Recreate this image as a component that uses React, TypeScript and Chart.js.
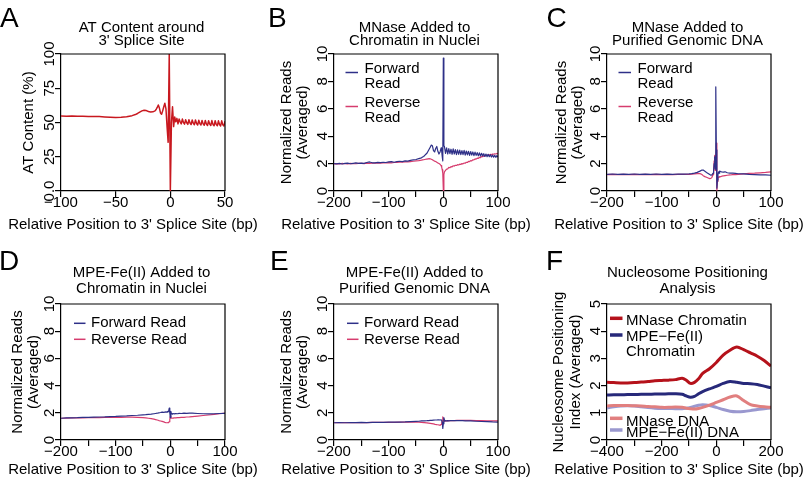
import React, { useEffect, useRef } from 'react';
import { Chart, registerables } from 'chart.js';
Chart.register(...registerables);

const FONT = "'Liberation Sans', Arial, Helvetica, sans-serif";
const X_TITLE = "Relative Position to 3' Splice Site (bp)";

// ---------- Panel A: AT content ----------
const A_POS = [-100,-95,-90,-85,-80,-75,-70,-65,-60,-55,-50,-45,-40,-35,
  -32,-30,-28,-26,-24,-22,-20,-18,-16,-14,
  -13,-12,-11,-10,-9,-8,-7,-6,-5,-4,-3,-2,-1,0,
  1,2,3,4,5,6,7,8,9,10,11,12,13,14,15,16,17,18,19,20,21,22,23,24,25,
  26,27,28,29,30,31,32,33,34,35,36,37,38,39,40,41,42,43,44,45,46,47,48,49,50];
const A_AT = [54.8,54.6,54.7,54.5,54.6,54.4,54.4,54.3,54.1,53.9,53.7,53.8,54.2,55.0,
  55.8,56.6,57.6,58.5,59.0,58.7,58.0,57.6,57.8,58.5,
  59.5,61.0,62.8,60.5,57.0,56.0,58.5,61.5,64.0,60.0,47.0,35.5,100,0,
  50.0,61.5,47.0,54.0,50.5,53.0,49.0,52.5,50.5,49.0,52.5,50.0,48.8,52.0,49.8,48.6,52.0,49.6,48.5,51.8,49.5,48.4,51.8,49.3,48.2,
  51.6,49.2,48.2,51.5,49.0,48.0,51.5,48.8,47.8,51.3,48.8,47.8,51.4,48.6,47.6,51.3,48.5,47.6,51.2,48.5,47.5,51.2,48.3,47.5,51.0];

// ---------- Panel B: MNase, chromatin ----------
const B_POS = [-200,-195,-190,-185,-180,-175,-170,-165,-160,-155,-150,-145,-140,-135,-130,-125,-120,-115,-110,-105,-100,-95,-90,-85,-80,-75,-70,-65,-60,-55,-50,-45,-40,
  -38,-36,-34,-32,-30,-28,-26,-24,-22,-20,-18,-16,-14,-12,-10,-8,-6,-4,-3,-2,-1,0,1,
  2,4,6,8,10,12,14,16,18,20,22,24,26,28,30,32,34,36,38,40,42,44,46,48,50,52,54,56,58,60,62,64,66,68,70,72,74,76,78,80,82,84,86,88,90,92,94,96,98,100];
const B_FWD = [2.00,1.98,2.02,1.97,2.01,2.03,1.99,2.02,2.05,2.01,2.04,2.02,2.08,2.12,2.06,2.05,2.09,2.07,2.10,2.08,2.12,2.15,2.10,2.14,2.17,2.15,2.20,2.18,2.24,2.27,2.30,2.36,2.42,
  2.48,2.52,2.6,2.68,2.75,2.9,3.05,3.2,3.35,3.3,2.95,2.85,3.1,3.25,2.9,2.7,2.85,3.15,2.9,2.5,2.2,9.7,3.3,
  3.25,2.75,3.15,2.7,3.1,2.72,3.05,2.68,3.08,2.7,3.02,2.66,3.0,2.68,2.98,2.65,2.95,2.66,2.96,2.62,2.92,2.64,2.9,2.6,2.88,2.62,2.85,2.58,2.84,2.6,2.8,2.57,2.78,2.55,2.75,2.55,2.72,2.52,2.7,2.5,2.68,2.5,2.65,2.48,2.62,2.47,2.6,2.46,2.58,2.48];
const B_REV = [1.98,2.0,1.97,2.01,1.99,1.98,2.02,2.0,1.99,2.02,2.01,2.0,2.03,2.02,2.04,2.03,2.05,2.04,2.06,2.05,2.07,2.06,2.08,2.08,2.1,2.1,2.12,2.13,2.15,2.17,2.2,2.22,2.25,
  2.27,2.28,2.3,2.32,2.33,2.35,2.36,2.35,2.32,2.28,2.22,2.18,2.15,2.1,2.05,2.0,1.95,1.85,1.75,1.55,1.3,0.05,1.2,
  1.4,1.5,1.6,1.62,1.72,1.7,1.78,1.76,1.84,1.82,1.88,1.86,1.92,1.9,1.96,1.94,2.0,1.98,2.04,2.03,2.1,2.08,2.16,2.15,2.22,2.2,2.28,2.27,2.34,2.33,2.4,2.38,2.46,2.44,2.52,2.5,2.56,2.55,2.6,2.59,2.64,2.62,2.67,2.65,2.7,2.68,2.72,2.7,2.74,2.73];

// ---------- Panels C, D, E ----------
const CDE_POS = [-200,-190,-180,-170,-160,-150,-140,-130,-120,-110,-100,-90,-80,-70,-60,-50,
  -45,-40,-35,-30,-27,-24,-21,-18,-15,-12,-10,-8,-6,-5,-4,-3,-2,-1,0,
  1,2,3,4,5,6,8,10,13,16,20,25,30,35,40,50,60,70,80,90,100];
const C_FWD = [1.22,1.24,1.21,1.23,1.22,1.24,1.22,1.23,1.21,1.24,1.22,1.23,1.22,1.24,1.23,1.25,
  1.27,1.3,1.36,1.45,1.52,1.53,1.45,1.35,1.28,1.2,1.15,1.18,1.3,1.5,2.0,2.5,1.6,7.6,3.0,
  0.2,0.8,1.2,1.4,1.3,1.45,1.42,1.4,1.38,1.4,1.33,1.3,1.3,1.28,1.26,1.25,1.22,1.2,1.18,1.17,1.15];
const C_REV = [1.2,1.22,1.19,1.21,1.2,1.22,1.2,1.21,1.19,1.22,1.2,1.21,1.2,1.22,1.21,1.22,
  1.23,1.25,1.27,1.27,1.22,1.12,1.05,1.0,0.95,0.9,0.92,1.0,1.2,1.5,2.2,2.6,1.5,2.5,3.5,
  0.05,0.7,0.95,1.0,1.05,1.02,1.05,1.08,1.1,1.12,1.15,1.17,1.2,1.2,1.22,1.25,1.28,1.3,1.33,1.36,1.4];
const D_FWD = [1.6,1.62,1.63,1.64,1.66,1.66,1.68,1.69,1.7,1.72,1.73,1.75,1.77,1.8,1.82,1.85,
  1.86,1.88,1.9,1.93,1.95,1.97,2.0,2.02,2.05,2.03,2.05,2.07,2.05,2.1,2.08,2.15,2.35,2.0,1.65,
  2.1,1.92,1.95,1.9,1.93,1.95,1.92,1.95,1.93,1.96,1.95,1.98,1.96,1.98,1.97,1.95,1.93,1.92,1.93,1.95,1.96];
const D_REV = [1.6,1.61,1.62,1.62,1.63,1.64,1.64,1.65,1.66,1.66,1.67,1.67,1.68,1.68,1.67,1.65,
  1.63,1.6,1.57,1.53,1.5,1.47,1.43,1.4,1.37,1.33,1.3,1.28,1.27,1.27,1.28,1.3,1.35,1.5,1.75,
  1.62,1.6,1.6,1.61,1.61,1.62,1.62,1.63,1.64,1.65,1.66,1.67,1.69,1.7,1.72,1.76,1.8,1.84,1.88,1.93,1.98];
const E_FWD = [1.27,1.28,1.27,1.28,1.28,1.29,1.28,1.29,1.3,1.3,1.31,1.31,1.32,1.33,1.35,1.37,
  1.38,1.4,1.41,1.42,1.43,1.44,1.45,1.46,1.47,1.47,1.48,1.48,1.47,1.48,1.47,1.45,1.3,0.85,1.2,
  1.65,1.45,1.4,1.42,1.4,1.41,1.42,1.41,1.42,1.42,1.43,1.43,1.42,1.42,1.41,1.4,1.38,1.36,1.35,1.33,1.32];
const E_REV = [1.27,1.27,1.28,1.27,1.28,1.28,1.28,1.29,1.29,1.29,1.3,1.3,1.31,1.31,1.32,1.32,
  1.31,1.3,1.28,1.26,1.24,1.22,1.2,1.18,1.15,1.13,1.12,1.1,1.1,1.12,1.15,1.25,1.4,1.7,1.55,
  1.35,1.38,1.4,1.42,1.4,1.42,1.41,1.42,1.43,1.42,1.43,1.44,1.44,1.45,1.45,1.44,1.43,1.42,1.41,1.4,1.4];

// ---------- Panel F: nucleosome positioning ----------
const F_POS = [-400,-375,-350,-325,-300,-275,-250,-225,-200,-175,-150,-125,-110,-95,-80,-65,-50,-25,0,25,50,75,100,125,150,175,200];
const F_MNASE_CHR = [2.12,2.11,2.1,2.1,2.11,2.13,2.15,2.18,2.19,2.2,2.22,2.27,2.2,2.08,2.12,2.25,2.45,2.62,2.85,3.12,3.3,3.42,3.32,3.2,3.08,2.92,2.72];
const F_MPE_CHR = [1.65,1.66,1.66,1.67,1.67,1.68,1.68,1.69,1.69,1.7,1.7,1.68,1.62,1.57,1.6,1.7,1.78,1.88,1.97,2.08,2.15,2.12,2.08,2.07,2.04,1.98,1.92];
const F_MNASE_DNA = [1.25,1.27,1.27,1.27,1.26,1.25,1.23,1.22,1.2,1.2,1.21,1.2,1.17,1.15,1.14,1.16,1.2,1.28,1.38,1.48,1.58,1.62,1.45,1.3,1.25,1.22,1.2];
const F_MPE_DNA = [1.18,1.22,1.25,1.26,1.25,1.22,1.19,1.17,1.16,1.16,1.15,1.15,1.17,1.2,1.24,1.28,1.3,1.27,1.2,1.12,1.06,1.04,1.05,1.08,1.12,1.15,1.18];

const RED_A = '#C8181F';
const FWD = '#2E3088';
const REV = '#D63C6E';
const F_COLORS = ['#B5121B', '#27297A', '#E17F7F', '#9A98CF'];

const fmtNum = (v: number) => (v < 0 ? '\u2212' + Math.abs(v) : String(v));

type Series = { xs: number[]; ys: number[]; color: string; width: number; tension?: number };
type Leg = { lines: string[]; color: string; width: number; seg: [number, number]; segY: number; tx: number; base: number[] };
type Spec = {
  cx: number; cy: number; cw: number; ch: number;
  L: number; T: number; R: number; B: number;
  letter: string; letterX: number; letterY: number;
  title: string[]; titleBase: number[]; xTitleBase: number;
  yTitle: string | string[]; yTitlePad: number;
  xMin: number; xMax: number; xStep: number; xLabelEvery: number;
  yMin: number; yMax: number; yStep: number; yFmt?: (v: number) => string; yTickPad: number;
  series: Series[]; legend: Leg[];
};

const ROW1 = { cy: 0, ch: 241, T: 54, B: 191, titleBase: [31.5, 45], xTitleBase: 229, letterY: 27 };
const ROW2 = { cy: 241, ch: 241, T: 304, B: 440, titleBase: [276.5, 292.5], xTitleBase: 474, letterY: 270 };
const COL1 = { cx: 0, cw: 275, L: 61, R: 225 };
const COL2 = { cx: 269, cw: 280, L: 334, R: 498 };
const COL3 = { cx: 538, cw: 269, L: 607, R: 771 };

const legFR2 = (): Leg[] => [
  { lines: ['Forward', 'Read'], color: FWD, width: 1.5, seg: [11.5, 24], segY: 18.5, tx: 30.5, base: [18.8, 34] },
  { lines: ['Reverse', 'Read'], color: REV, width: 1.5, seg: [11.5, 24], segY: 52.5, tx: 30.5, base: [53.4, 67.7] },
];
const legFR1 = (): Leg[] => [
  { lines: ['Forward Read'], color: FWD, width: 1.5, seg: [13, 24.5], segY: 19.3, tx: 30, base: [23.3] },
  { lines: ['Reverse Read'], color: REV, width: 1.5, seg: [13, 24.5], segY: 35.3, tx: 30, base: [40] },
];

const readsY = { yMin: 0, yMax: 10, yStep: 2, yTickPad: -2.85 };
const readsX = { xMin: -200, xMax: 100, xStep: 50, xLabelEvery: 100 };

const SPECS: Spec[] = [
  {
    ...COL1, ...ROW1, letter: 'A', letterX: 0, title: ['AT Content around', "3' Splice Site"],
    yTitle: 'AT Content (%)', yTitlePad: 20.75,
    xMin: -100, xMax: 50, xStep: 50, xLabelEvery: 50,
    yMin: 0, yMax: 100, yStep: 25, yFmt: (v) => (v === 0 ? '0.0' : String(v)), yTickPad: -7,
    series: [{ xs: A_POS, ys: A_AT, color: RED_A, width: 1.5 }], legend: [],
  },
  {
    ...COL2, ...ROW1, letter: 'B', letterX: 268, title: ['MNase Added to', 'Chromatin in Nuclei'],
    yTitle: ['Normalized Reads', '(Averaged)'], yTitlePad: 9.25, ...readsX, ...readsY,
    series: [{ xs: B_POS, ys: B_FWD, color: FWD, width: 1.2 }, { xs: B_POS, ys: B_REV, color: REV, width: 1.2 }],
    legend: legFR2(),
  },
  {
    ...COL3, ...ROW1, letter: 'C', letterX: 546.5, title: ['MNase Added to', 'Purified Genomic DNA'],
    yTitle: ['Normalized Reads', '(Averaged)'], yTitlePad: 15.5, ...readsX, ...readsY,
    series: [{ xs: CDE_POS, ys: C_FWD, color: FWD, width: 1.2 }, { xs: CDE_POS, ys: C_REV, color: REV, width: 1.2 }],
    legend: legFR2(),
  },
  {
    ...COL1, ...ROW2, letter: 'D', letterX: -1, title: ['MPE-Fe(II) Added to', 'Chromatin in Nuclei'],
    yTitle: ['Normalized Reads', '(Averaged)'], yTitlePad: 9.25, ...readsX, ...readsY,
    series: [{ xs: CDE_POS, ys: D_FWD, color: FWD, width: 1.2 }, { xs: CDE_POS, ys: D_REV, color: REV, width: 1.2 }],
    legend: legFR1(),
  },
  {
    ...COL2, ...ROW2, letter: 'E', letterX: 270, title: ['MPE-Fe(II) Added to', 'Purified Genomic DNA'],
    yTitle: ['Normalized Reads', '(Averaged)'], yTitlePad: 9.25, ...readsX, ...readsY,
    series: [{ xs: CDE_POS, ys: E_FWD, color: FWD, width: 1.2 }, { xs: CDE_POS, ys: E_REV, color: REV, width: 1.2 }],
    legend: legFR1(),
  },
  {
    ...COL3, ...ROW2, letter: 'F', letterX: 546, title: ['Nucleosome Positioning', 'Analysis'],
    yTitle: ['Nucleosome Positioning', 'Index (Averaged)'], yTitlePad: 12.75,
    xMin: -400, xMax: 200, xStep: 100, xLabelEvery: 200,
    yMin: 0, yMax: 5, yStep: 1, yTickPad: 1.3,
    series: [
      { xs: F_POS, ys: F_MNASE_CHR, color: F_COLORS[0], width: 3, tension: 0.3 },
      { xs: F_POS, ys: F_MPE_CHR, color: F_COLORS[1], width: 3, tension: 0.3 },
      { xs: F_POS, ys: F_MNASE_DNA, color: F_COLORS[2], width: 3, tension: 0.3 },
      { xs: F_POS, ys: F_MPE_DNA, color: F_COLORS[3], width: 3, tension: 0.3 },
    ],
    legend: [
      { lines: ['MNase Chromatin'], color: F_COLORS[0], width: 3.5, seg: [3, 15.5], segY: 14.3, tx: 19, base: [20.5] },
      { lines: ['MPE\u2212Fe(II)', 'Chromatin'], color: F_COLORS[1], width: 3.5, seg: [3, 15.5], segY: 31, tx: 19, base: [37, 51.5] },
      { lines: ['MNase DNA'], color: F_COLORS[2], width: 3.5, seg: [3, 15.5], segY: 114.3, tx: 19, base: [121.7] },
      { lines: ['MPE\u2212Fe(II) DNA'], color: F_COLORS[3], width: 3.5, seg: [3, 15.5], segY: 126, tx: 19, base: [132.5] },
    ],
  },
];

function decoPlugin(s: Spec) {
  return {
    id: 'deco' + s.letter,
    afterDraw(chart: any) {
      const ctx = chart.ctx as CanvasRenderingContext2D;
      const ca = chart.chartArea;
      ctx.save();
      ctx.strokeStyle = '#000';
      ctx.lineWidth = 1.2;
      ctx.beginPath();
      ctx.moveTo(ca.left, ca.top);
      ctx.lineTo(ca.right, ca.top);
      ctx.lineTo(ca.right, ca.bottom);
      ctx.stroke();
      ctx.fillStyle = '#000';
      ctx.font = `28px ${FONT}`;
      ctx.textAlign = 'left';
      ctx.textBaseline = 'alphabetic';
      ctx.fillText(s.letter, s.letterX - s.cx, s.letterY - s.cy);
      ctx.font = `15px ${FONT}`;
      ctx.textAlign = 'center';
      const mid = (ca.left + ca.right) / 2;
      s.title.forEach((ln, i) => ctx.fillText(ln, mid - 1.5, s.titleBase[i] - s.cy));
      ctx.fillText(X_TITLE, mid - 10, s.xTitleBase - s.cy);
      ctx.textAlign = 'left';
      for (const e of s.legend) {
        ctx.strokeStyle = e.color;
        ctx.lineWidth = e.width;
        ctx.beginPath();
        ctx.moveTo(ca.left + e.seg[0], ca.top + e.segY);
        ctx.lineTo(ca.left + e.seg[1], ca.top + e.segY);
        ctx.stroke();
        e.lines.forEach((ln, i) => ctx.fillText(ln, ca.left + e.tx, ca.top + e.base[i]));
      }
      ctx.restore();
    },
  };
}

function buildConfig(s: Spec): any {
  const gridOpts = { display: true, drawOnChartArea: false, drawTicks: true, tickLength: 6, color: '#000', lineWidth: 1.2 };
  const border = { display: true, color: '#000', width: 1.2 };
  const tickFont = { family: FONT, size: 15 };
  return {
    type: 'line',
    data: {
      datasets: s.series.map((sr) => ({
        data: sr.xs.map((x, i) => ({ x, y: sr.ys[i] })),
        borderColor: sr.color,
        borderWidth: sr.width,
        tension: sr.tension ?? 0,
        pointRadius: 0,
        fill: false,
        borderJoinStyle: 'round',
      })),
    },
    options: {
      animation: false,
      responsive: false,
      events: [],
      layout: { padding: { left: 0, top: s.T - s.cy, right: s.cx + s.cw - s.R, bottom: 0 } },
      plugins: { legend: { display: false }, tooltip: { enabled: false }, title: { display: false } },
      scales: {
        x: {
          type: 'linear',
          min: s.xMin,
          max: s.xMax,
          grid: gridOpts,
          border,
          ticks: {
            stepSize: s.xStep,
            autoSkip: false,
            maxRotation: 0,
            minRotation: 0,
            padding: -3,
            color: '#000',
            font: tickFont,
            callback: (v: number) => (Math.round(v) % s.xLabelEvery === 0 ? fmtNum(Math.round(v)) : ''),
          },
          afterFit: (sc: any) => { sc.height = s.cy + s.ch - s.B; },
        },
        y: {
          type: 'linear',
          min: s.yMin,
          max: s.yMax,
          grid: gridOpts,
          border,
          ticks: {
            stepSize: s.yStep,
            minRotation: 90,
            maxRotation: 90,
            crossAlign: 'center',
            padding: s.yTickPad,
            color: '#000',
            font: tickFont,
            callback: (v: number) => (s.yFmt ? s.yFmt(v) : String(v)),
          },
          title: {
            display: true,
            text: s.yTitle,
            color: '#000',
            font: { family: FONT, size: 15, lineHeight: 1.1 },
            padding: { top: s.yTitlePad, bottom: 0 },
          },
          afterFit: (sc: any) => { sc.width = s.L - s.cx; },
        },
      },
    },
    plugins: [decoPlugin(s)],
  };
}

function Panel({ spec }: { spec: Spec }) {
  const ref = useRef<HTMLCanvasElement>(null);
  useEffect(() => {
    const chart = new Chart(ref.current as HTMLCanvasElement, buildConfig(spec));
    return () => chart.destroy();
  }, [spec]);
  return (
    <canvas
      ref={ref}
      width={spec.cw}
      height={spec.ch}
      style={{ position: 'absolute', left: spec.cx, top: spec.cy, width: spec.cw, height: spec.ch }}
    />
  );
}

export default function App() {
  return (
    <div style={{ position: 'absolute', left: 0, top: 0, width: 807, height: 482, background: '#fff', overflow: 'hidden' }}>
      {SPECS.map((s) => (
        <Panel key={s.letter} spec={s} />
      ))}
    </div>
  );
}
